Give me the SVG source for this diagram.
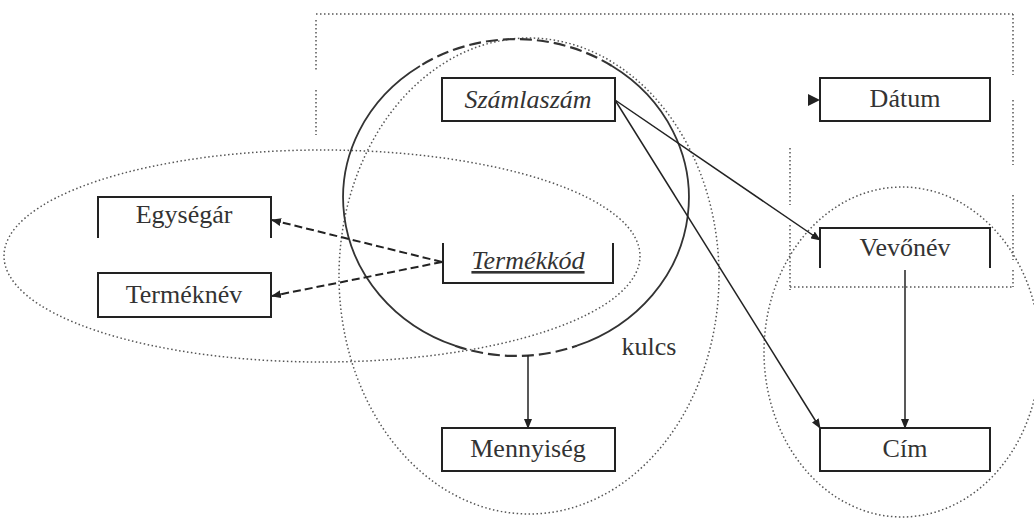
<svg xmlns="http://www.w3.org/2000/svg" width="1034" height="520" viewBox="0 0 1034 520">
<style>
.box{fill:none;stroke:#222;stroke-width:2}
.t{font-size:26px;fill:#333;text-anchor:middle}
.it{font-style:italic}
.dot{fill:none;stroke:#555;stroke-width:1.5;stroke-dasharray:1.5 2.5}
.c{fill:none;stroke:#222;stroke-width:1.5}
.dash{fill:none;stroke:#222;stroke-width:2;stroke-dasharray:8 4}
.key{fill:none;stroke:#333;stroke-width:1.8}
.keyd{fill:none;stroke:#333;stroke-width:2.2;stroke-dasharray:12 5}
</style>
<defs>
<marker id="ah" markerWidth="10" markerHeight="8" refX="9" refY="4" orient="auto" markerUnits="userSpaceOnUse">
<path d="M0,0 L10,4 L0,8 Z" fill="#222"/>
</marker>
</defs>
<rect width="1034" height="520" fill="#fff"/>
<g font-family="'Liberation Serif', Tinos, 'DejaVu Serif', serif">
<g id="groups">
<path class="dot" d="M316,14 H1013"/>
<path class="dot" d="M316,20 V70 M316,90 V135"/>
<path class="dot" d="M1013,14 V75 M1013,100 V165 M1013,195 V260 M1013,270 V287"/>
<path class="dot" d="M790,148 V205 M790,225 V290"/>
<path class="dot" d="M790,287 H1013"/>
<ellipse class="dot" cx="322" cy="256" rx="318" ry="106"/>
<ellipse class="dot" cx="529" cy="276" rx="190" ry="238"/>
<ellipse class="dot" cx="902" cy="352" rx="138" ry="165"/>
<path class="key" d="M420,66 A172,158 0 0 0 455,345.7"/>
<path class="keyd" d="M455,345.7 A172,158 0 0 0 577,345.7"/>
<path class="key" d="M577,345.7 A172,158 0 0 0 612,66"/>
<path class="keyd" d="M612,66 A172,158 0 0 0 420,66"/>
<text class="t" x="649" y="355">kulcs</text>
</g>
<g id="connectors">
<path class="c" d="M615,100 L820,240" marker-end="url(#ah)"/>
<path class="c" d="M615,100 L820,428" marker-end="url(#ah)"/>
<path class="c" d="M905,270 V428" marker-end="url(#ah)"/>
<path class="c" d="M528,355 V428" marker-end="url(#ah)"/>
<path class="dash" d="M442,262 L272,220" marker-end="url(#ah)"/>
<path class="dash" d="M442,262 L272,296" marker-end="url(#ah)"/>
<path d="M808,94 L820,100 L808,106 Z" fill="#222"/>
</g>
<g id="szamlaszam">
<rect class="box" x="442" y="78" width="173" height="43"/>
<text class="t it" x="528" y="108">Számlaszám</text>
</g>
<g id="datum">
<rect class="box" x="820" y="78" width="170" height="43"/>
<text class="t" x="905" y="107">Dátum</text>
</g>
<g id="egysegar">
<path class="box" d="M98,238 V197 H271 V238"/>
<text class="t" x="184" y="223">Egységár</text>
</g>
<g id="termeknev">
<rect class="box" x="98" y="273" width="173" height="44"/>
<text class="t" x="184" y="303">Terméknév</text>
</g>
<g id="termekkod">
<path class="box" d="M443,243 V283 H613 V243"/>
<text class="t it" x="528" y="269" text-decoration="underline">Termékkód</text>
</g>
<g id="vevonev">
<path class="box" d="M820,268 V228 H990 V268"/>
<text class="t" x="905" y="256">Vevőnév</text>
</g>
<g id="mennyiseg">
<rect class="box" x="442" y="428" width="173" height="43"/>
<text class="t" x="528" y="457">Mennyiség</text>
</g>
<g id="cim">
<rect class="box" x="820" y="428" width="170" height="43"/>
<text class="t" x="905" y="457">Cím</text>
</g>
</g>
</svg>
